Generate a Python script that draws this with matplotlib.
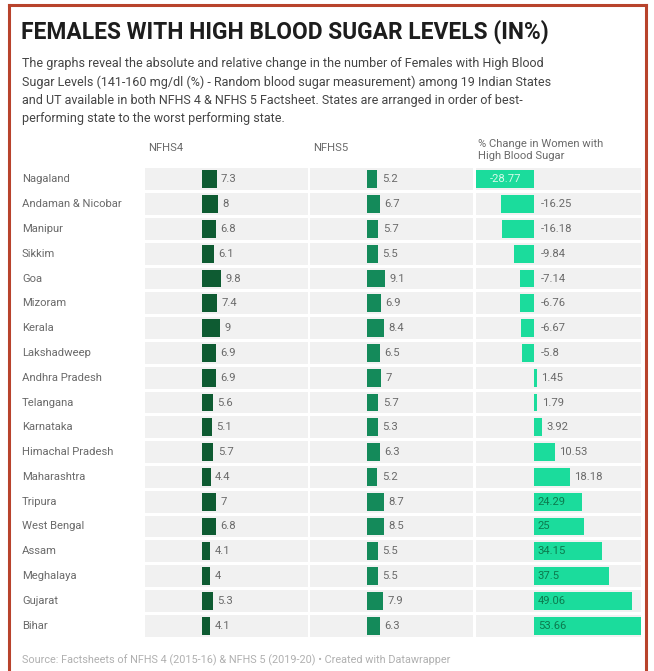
import matplotlib.pyplot as plt
from matplotlib.patches import Rectangle
from matplotlib.lines import Line2D

plt.rcParams['font.family'] = ['Roboto', 'DejaVu Sans']

# Data
states = ["Nagaland", "Andaman & Nicobar", "Manipur", "Sikkim", "Goa", "Mizoram",
          "Kerala", "Lakshadweep", "Andhra Pradesh", "Telangana", "Karnataka",
          "Himachal Pradesh", "Maharashtra", "Tripura", "West Bengal", "Assam",
          "Meghalaya", "Gujarat", "Bihar"]
nfhs4 = [7.3, 8, 6.8, 6.1, 9.8, 7.4, 9, 6.9, 6.9, 5.6, 5.1, 5.7, 4.4, 7, 6.8, 4.1, 4, 5.3, 4.1]
nfhs5 = [5.2, 6.7, 5.7, 5.5, 9.1, 6.9, 8.4, 6.5, 7, 5.7, 5.3, 6.3, 5.2, 8.7, 8.5, 5.5, 5.5, 7.9, 6.3]
change = [-28.77, -16.25, -16.18, -9.84, -7.14, -6.76, -6.67, -5.8, 1.45, 1.79, 3.92,
          10.53, 18.18, 24.29, 25, 34.15, 37.5, 49.06, 53.66]
change_labels = ["-28.77", "-16.25", "-16.18", "-9.84", "-7.14", "-6.76", "-6.67", "-5.8",
                 "1.45", "1.79", "3.92", "10.53", "18.18", "24.29", "25", "34.15", "37.5",
                 "49.06", "53.66"]

W, H = 654, 671
fig = plt.figure(figsize=(W / 100, H / 100), dpi=100)

# Border
bc = "#b8432c"
fig.add_artist(Line2D([9 / W, 9 / W], [0, 1 - 5 / H], color=bc, lw=2.2, transform=fig.transFigure))
fig.add_artist(Line2D([9 / W, 646 / W], [1 - 5 / H, 1 - 5 / H], color=bc, lw=2.2, transform=fig.transFigure))
fig.add_artist(Line2D([646 / W, 646 / W], [0, 1 - 5 / H], color=bc, lw=2.2, transform=fig.transFigure))

# Title and subtitle
fig.text(21 / W, 1 - 32 / H, "FEMALES WITH HIGH BLOOD SUGAR LEVELS (IN%)", fontsize=16.4,
         fontweight="bold", color="#1d1d1d", va="center", ha="left")
subtitle = ("The graphs reveal the absolute and relative change in the number of Females with High Blood\n"
            "Sugar Levels (141-160 mg/dl (%) - Random blood sugar measurement) among 19 Indian States\n"
            "and UT available in both NFHS 4 & NFHS 5 Factsheet. States are arranged in order of best-\n"
            "performing state to the worst performing state.")
fig.text(22 / W, 1 - 57 / H, subtitle, fontsize=9, color="#444444", va="top", ha="left",
         linespacing=1.5)

fig.text(22 / W, 1 - 660 / H,
         "Source: Factsheets of NFHS 4 (2015-16) & NFHS 5 (2019-20) \u2022 Created with Datawrapper",
         fontsize=7.8, color="#b0b0b0", va="center", ha="left")

n = len(states)
xmin, xmax = -29, 53.7
bottom = 1 - 638 / H
top = 1 - 167 / H
panels = [(145, 163), (310, 163), (476, 165)]
colors = ["#0e5b32", "#148a5a", "#1bdc9c"]
series = [nfhs4, nfhs5, change]
fs = 8.1
lab_col = "#6a6a6a"

axes = []
for (left, width), col, vals in zip(panels, colors, series):
    ax = fig.add_axes([left / W, bottom, width / W, top - bottom])
    ax.set_xlim(xmin, xmax)
    ax.set_ylim(n - 0.5, -0.5)
    ax.axis("off")
    for i in range(n):
        ax.add_patch(Rectangle((xmin, i - 0.44), xmax - xmin, 0.88, color="#f1f1f1", lw=0, zorder=0))
    ax.barh(range(n), vals, height=0.72, color=col, zorder=2)
    axes.append(ax)

# Column headers
fig.text(148 / W, 1 - 148 / H, "NFHS4", fontsize=fs, color=lab_col, va="center", ha="left")
fig.text(313 / W, 1 - 148 / H, "NFHS5", fontsize=fs, color=lab_col, va="center", ha="left")
fig.text(478 / W, 1 - 150 / H, "% Change in Women with\nHigh Blood Sugar", fontsize=fs,
         color=lab_col, va="center", ha="left", linespacing=1.2)

# Value labels
for ax, vals in zip(axes[:2], series[:2]):
    for i, v in enumerate(vals):
        ax.text(v + 2.2, i, f"{v:g}", fontsize=fs, color=lab_col, va="center", ha="left", zorder=3)

ax = axes[2]
for i, (v, lab) in enumerate(zip(change, change_labels)):
    if v < -20:
        ax.text(v / 2, i, lab, fontsize=fs, color="#d6fbe9", va="center", ha="center", zorder=3)
    elif v < 0:
        ax.text(3.5, i, lab, fontsize=fs, color=lab_col, va="center", ha="left", zorder=3)
    elif v < 20:
        ax.text(v + 2.2, i, lab, fontsize=fs, color=lab_col, va="center", ha="left", zorder=3)
    else:
        ax.text(2, i, lab, fontsize=fs, color="#0c7a4e", va="center", ha="left", zorder=3)

# State names
for i, s in enumerate(states):
    y = top - (i + 0.5) / n * (top - bottom)
    fig.text(22 / W, y, s, fontsize=fs, color=lab_col, va="center", ha="left")

fig.savefig("out.png", dpi=100)
